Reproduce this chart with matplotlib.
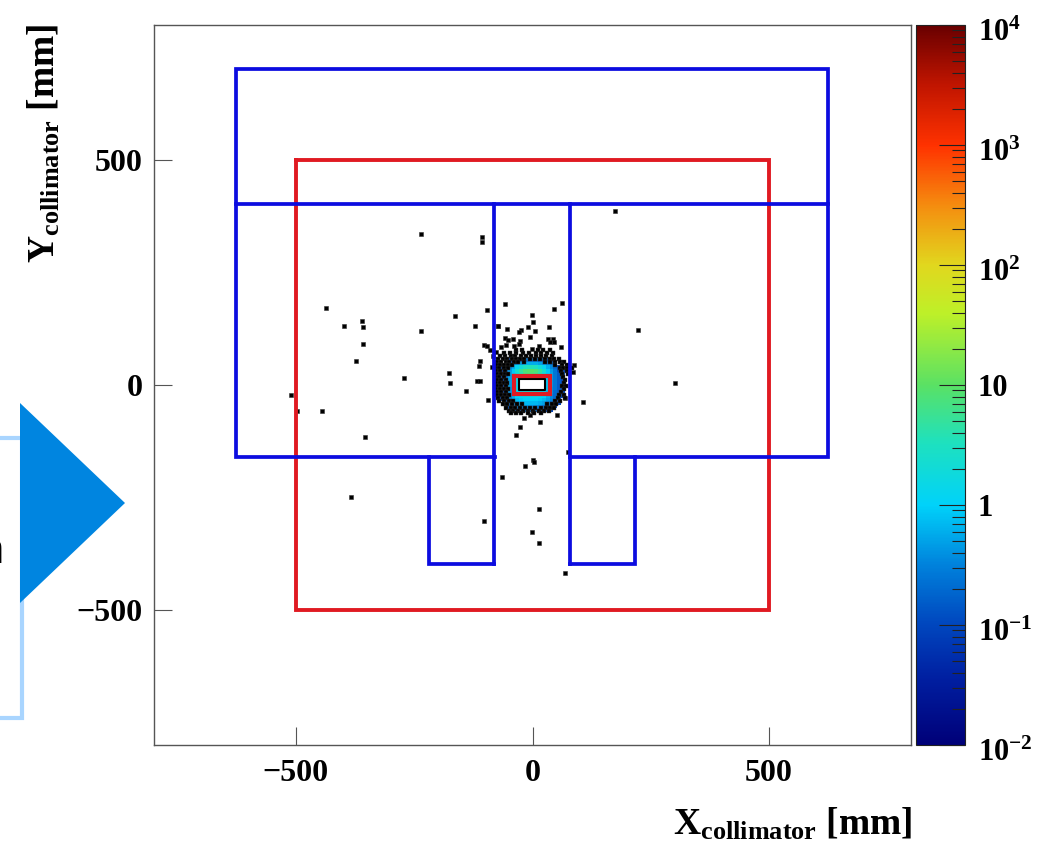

import numpy as np
import matplotlib
matplotlib.use("Agg")
import matplotlib.pyplot as plt
from matplotlib.colors import LinearSegmentedColormap, LogNorm
from matplotlib.lines import Line2D
from matplotlib.patches import Polygon
from matplotlib.ticker import FixedLocator, NullFormatter
from matplotlib.transforms import ScaledTranslation

W, H = 1053, 844

plt.rcParams['font.family'] = ['Liberation Serif', 'DejaVu Serif']
plt.rcParams['font.weight'] = 'bold'
plt.rcParams['mathtext.fontset'] = 'custom'
plt.rcParams['mathtext.rm'] = 'Liberation Serif:bold'
plt.rcParams['mathtext.bf'] = 'Liberation Serif:bold'
plt.rcParams['mathtext.default'] = 'bf'

# outlines of the apertures, mm
blue_paths = [
    ([-80, -627, -627, 625, 625, 80], [-160, -160, 703, 703, -160, -160]),
    ([-627, 625], [403, 403]),
    ([-82, -82], [403, -398]),
    ([79, 79], [403, -398]),
    ([-82, -219, -219], [-398, -398, -160]),
    ([79, 216, 216], [-398, -398, -160]),
]
red_paths = [
    ([-500, 500, 500, -500, -500], [500, 500, -500, -500, 500]),
    ([-40, 38, 38, -40, -40], [21, 21, -20, -20, 21]),
]
hole_x = [-28, 27, 27, -28, -28]
hole_y = [13, 13, -11, -11, 13]

# single hits far from the beam, read one by one
far_x = [-235, -106, -106, -436, -96, -164, -361, -399, -358, -122, -235, -73, -358, -102, -96, -89,
         -77, -83, -374, -110, -114, -86, -271, -177, -175, -117, -111, -141, -510, -93, -498, -444,
         -355, -384, 175, -58, 63, 46, -2, 1, -10, -72, -53, 35, -25, -29, 6, 223, -58, -51, -42, -6,
         32, 43, 38, 45, -27, -28, -39, -57, -66, -2, 60, 13, 302, 51, 15, -27, -34, 1, 4, -15, -65,
         13, -102, -1, 13, 69, -19, -6, 87, 85, 106, 68, 75]
far_y = [335, 330, 317, 171, 167, 153, 143, 131, 129, 131, 121, 131, 92, 90, 87, 78,
         73, 65, 54, 54, 42, 40, 16, 27, 4, 10, 9, -13, -23, -33, -57, -57,
         -116, -249, 387, 181, 182, 169, 155, 141, 129, 131, 125, 129, 123, 117, 121, 123, 105, 101, 103, 107,
         103, 103, 96, 96, 97, 91, 87, 90, 85, 81, 84, 87, 4, -67, -83, -93, -112, -167, -171, -179, -205,
         -276, -302, -327, -352, -418, -73, -67, 44, 28, -38, -28, -149]

# hits in the dark band around the beam, row by row
band_y = [78, 71, 64, 58, 51, 45, 38, 31, 25, 18, 11, 5, -2, -9, -16, -22, -29, -36, -43, -50, -57, -63]
band_x = [
    [-35, -23, 12, 23, 38],
    [-60, -47, -34, -21, -8, 7, 17, 31, 44],
    [-68, -58, -45, -36, -25, -14, -3, 8, 19, 28, 41],
    [-72, -63, -54, -44, -35, -27, -17, -6, 5, 15, 26, 36, 46, 56],
    [-74, -66, -57, -49, -40, -30, -18, 27, 38, 47, 58, 66],
    [-76, -69, -61, -52, -43, 47, 62, 72],
    [-77, -70, -60, -52, 58, 65, 73, 83],
    [-78, -68, -58, 60, 72],
    [-76, -67, -59, -52, 62, 76],
    [-78, -70, -60, 64],
    [-76, -66, -57, 68],
    [-77, -69, -60, -53, 66],
    [-75, -66, -57, 63, 71],
    [-77, -68, -60, -52, 66],
    [-74, -66, -56, 60],
    [-76, -67, -58, -49, 57, 66],
    [-73, -63, -54, 54, 68],
    [-70, -60, -50, -42, 47, 58],
    [-62, -53, -44, -33, -22, 31, 41, 50],
    [-55, -46, -37, -27, -16, -5, 6, 17, 28, 38, 46],
    [-50, -41, -31, -20, -9, 2, 14, 25, 35],
    [-46, -35, -24, -10, 4, 18],
]

# counts around the beam, 8 mm cells, nan = nothing drawn
n = np.nan
cell_x = [-68, -60, -52, -44, -36, -28, -20, -12, -4, 4, 12, 20, 28, 36, 44, 52, 60, 68]
cell_y = [-60, -52, -44, -36, -28, -20, -12, -4, 4, 12, 20, 28, 36, 44, 52, 60]
counts = [
    [n, n, .1, .1, .15, .15, .2, .2, .2, .2, .15, .15, .1, .1, n, n, n],
    [n, n, .15, .2, .3, .35, .4, .4, .4, .35, .3, .25, .2, .15, .1, n, n],
    [n, .1, .2, .35, .5, .6, .7, .7, .7, .7, .6, .5, .35, .2, .15, .1, n],
    [.1, .15, .3, .5, .7, .9, 1, 1, 1, 1, .9, .7, .5, .3, .2, .1, n],
    [.1, .2, .35, .6, 1, 1.2, 1.3, 1.3, 1.3, 1.3, 1.2, 1, .6, .35, .2, .1, .1],
    [.1, .2, .4, .7, 1.2, 1.5, 2, 2, 2, 2, 1.5, 1.2, .7, .4, .2, .15, .1],
    [.1, .2, .4, .8, 1.3, n, n, n, n, n, n, n, .8, .4, .25, .15, .1],
    [.1, .25, .45, .8, 1.3, n, n, n, n, n, n, n, .8, .45, .25, .15, .1],
    [.1, .25, .45, .8, 1.4, n, n, n, n, n, n, n, .8, .45, .25, .15, .1],
    [.1, .25, .5, .9, 1.6, 2.5, 3, 3, 3, 3, 2.5, 1.6, .9, .5, .25, .15, .1],
    [.1, .25, .5, .9, 2, 4, 7, 8, 8, 7, 4, 2, .9, .5, .25, .15, .1],
    [.1, .2, .45, .9, 2.5, 5, 8, 9, 9, 8, 5, 2.5, .9, .45, .25, .1, .1],
    [.1, .2, .35, .6, 1.2, 2, 3, 3.5, 3.5, 3, 2, 1.2, .6, .35, .2, .1, n],
    [n, .1, .2, .3, .4, .5, .6, .6, .6, .6, .5, .4, .3, .2, .1, n, n],
    [n, n, .1, .15, .2, .2, .25, .25, .25, .25, .2, .2, .15, .1, n, n, n],
]

palette_pos = [0.0, 0.09, 0.167, 0.25, 0.333, 0.42, 0.5, 0.6, 0.667, 0.75, 0.833, 0.92, 1.0]
palette_rgb = [(0, 0, 120), (0, 30, 160), (0, 70, 190), (0, 130, 220), (0, 210, 250), (30, 225, 190),
               (90, 225, 100), (190, 240, 40), (225, 215, 30), (245, 140, 15), (255, 50, 0), (190, 20, 0),
               (105, 0, 0)]

cbar_ticks = [1e-2, 1e-1, 1, 10, 1e2, 1e3, 1e4]
cbar_labels = [r'$10^{-2}$', r'$10^{-1}$', '1', '10', r'$10^{2}$', r'$10^{3}$', r'$10^{4}$']


def px_x(x):
    return x / W


def px_y(y):
    return 1 - y / H


def main():
    fig = plt.figure(figsize=(W / 100, H / 100), dpi=100)
    ax = fig.add_axes([px_x(154), px_y(745), 757 / W, 720 / H])
    cax = fig.add_axes([px_x(916), px_y(745), 49 / W, 720 / H])

    colors = [(r / 255, g / 255, b / 255) for r, g, b in palette_rgb]
    cmap = LinearSegmentedColormap.from_list('root_rainbow', list(zip(palette_pos, colors)), N=512)
    norm = LogNorm(1e-2, 1e4)

    mesh = ax.pcolormesh(cell_x, cell_y, np.ma.masked_invalid(np.array(counts)), cmap=cmap, norm=norm,
                         zorder=1, rasterized=True)

    band_px = []
    band_py = []
    for y, xs in zip(band_y, band_x):
        for x in xs:
            band_px.append(x)
            band_py.append(y)
    ax.plot(far_x, far_y, ls='none', marker='s', ms=3.2, mfc='black', mec='#333333', mew=0.4, zorder=2)
    ax.plot(band_px, band_py, ls='none', marker='s', ms=2.7, mfc='black', mec='#333333', mew=0.3, zorder=2)
    ax.plot(hole_x, hole_y, color='black', lw=1.5, zorder=3)

    for xs, ys in red_paths:
        ax.plot(xs, ys, color='#e01a22', lw=2.8, solid_joinstyle='miter', zorder=4)
    for xs, ys in blue_paths:
        ax.plot(xs, ys, color='#0c0ce0', lw=2.7, solid_joinstyle='miter', zorder=5)
    # inner red frame sits on top of everything near the beam
    ax.plot(red_paths[1][0], red_paths[1][1], color='#e01a22', lw=3.0, solid_joinstyle='miter', zorder=6)

    ax.set_xlim(-800, 800)
    ax.set_ylim(-800, 800)
    ax.set_xticks([-500, 0, 500])
    ax.set_yticks([-500, 0, 500])
    ax.set_xticklabels(['\u2212500', '0', '500'], fontsize=23, fontweight='bold')
    ax.set_yticklabels(['\u2212500', '0', '500'], fontsize=23, fontweight='bold')
    ax.tick_params(axis='x', direction='in', length=13, width=0.8, color='#555555', pad=10)
    ax.tick_params(axis='y', direction='in', length=13, width=0.8, color='#555555', pad=8)
    for sp in ax.spines.values():
        sp.set_color('#555555')
        sp.set_linewidth(1.0)

    cb = fig.colorbar(mesh, cax=cax)
    cb.outline.set_edgecolor('#222222')
    cb.outline.set_linewidth(0.8)
    cb.set_ticks(cbar_ticks)
    cb.set_ticklabels(cbar_labels)
    minor = []
    for d in cbar_ticks[:-1]:
        for k in range(2, 10):
            minor.append(d * k)
    cax.yaxis.set_minor_locator(FixedLocator(minor))
    cax.yaxis.set_minor_formatter(NullFormatter())
    cax.tick_params(axis='y', which='major', direction='in', length=19, width=0.8, color='#222222',
                    labelsize=22, pad=9)
    cax.tick_params(axis='y', which='minor', direction='in', length=9.5, width=0.8, color='#222222')
    # the digits, not the digits plus exponent, are centred on the tick
    for lab in cax.get_yticklabels():
        if '^' in lab.get_text():
            lab.set_transform(lab.get_transform() + ScaledTranslation(0, -3.5 / 72, fig.dpi_scale_trans))

    fig.text(px_x(912), px_y(835), r'$X_{collimator}$ [mm]', fontsize=27, fontweight='bold',
             ha='right', va='baseline')
    fig.text(px_x(55), px_y(24), r'$Y_{collimator}$ [mm]', fontsize=27, fontweight='bold',
             rotation=90, ha='right', va='baseline', rotation_mode='anchor')

    # bit of the slide behind the plot
    rect_x = [0, 22, 22, 0]
    rect_y = [438, 438, 718, 718]
    fig.add_artist(Line2D([px_x(v) for v in rect_x], [px_y(v) for v in rect_y], color='#a9d5ff', lw=3,
                          solid_joinstyle='miter', transform=fig.transFigure, zorder=1))
    tri_x = [20, 125, 20]
    tri_y = [403, 503, 603]
    fig.add_artist(Polygon(list(zip([px_x(v) for v in tri_x], [px_y(v) for v in tri_y])), closed=True,
                           facecolor='#0085e0', edgecolor='none', transform=fig.transFigure, zorder=2))
    fig.text(px_x(3), px_y(563), 'n', fontsize=30, family='Liberation Sans', fontweight='normal',
             ha='right', va='baseline')

    fig.savefig('out.png', dpi=100)


if __name__ == "__main__":
    main()
